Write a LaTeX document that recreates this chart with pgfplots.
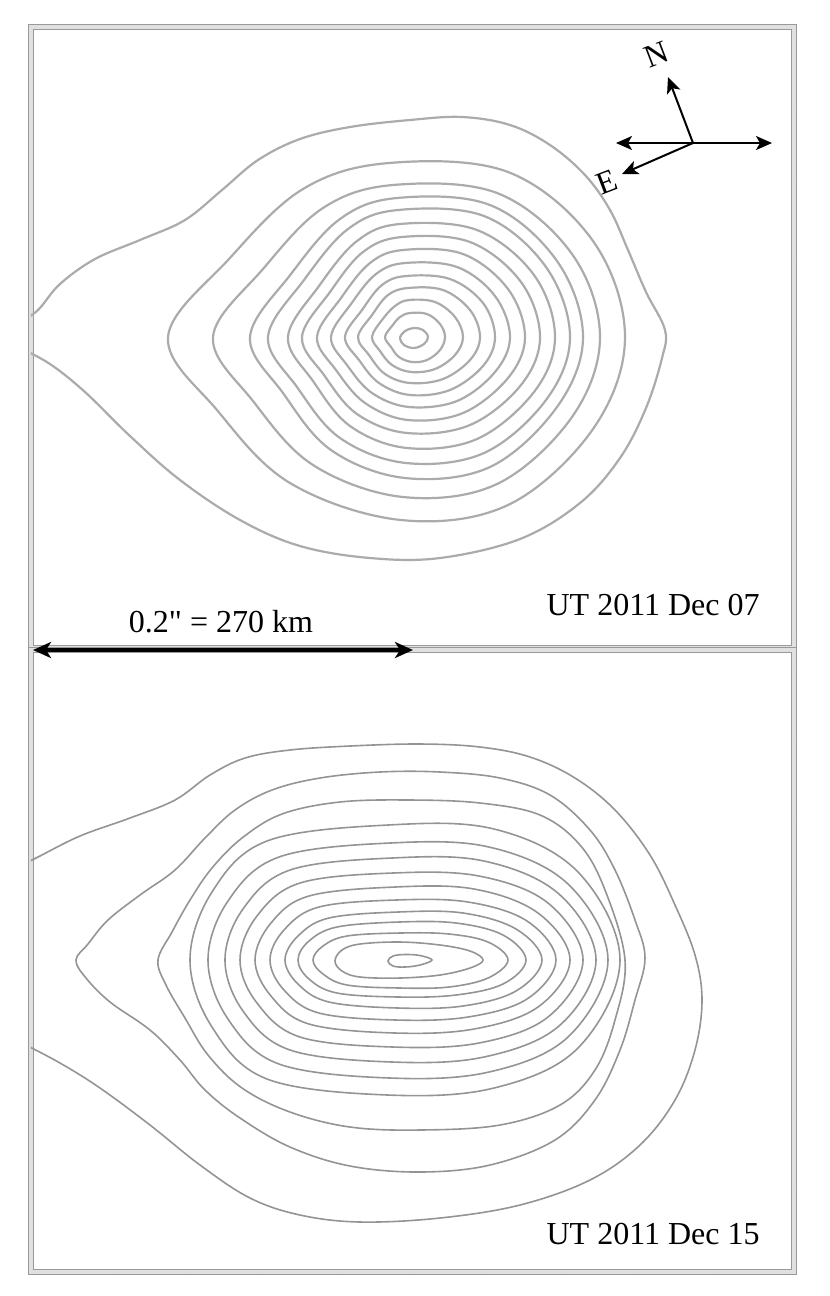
\documentclass[border=0pt]{standalone}
\usepackage{pgfplots}
\pgfplotsset{compat=1.18}
\usepackage{fontspec}
\setmainfont{Liberation Serif}[Ligatures=TeXOff]
\usetikzlibrary{arrows.meta}
\begin{document}
\begin{tikzpicture}
\useasboundingbox (0,0) rectangle (415pt,-648pt);
\pgfplotsset{panel/.style={scale only axis, width=381.5pt, anchor=south west,
  xmin=31, xmax=794, y dir=reverse,
  xtick={38,113,...,788}, xticklabels={}, yticklabels={},
  tick align=center, major tick length=3pt,
  tick style={black!50, line width=0.7pt},
  axis line style={draw=black!40, line width=0.5pt, double=black!12, double distance=1.6pt},
  clip mode=individual},
  cont/.style={black!33, line width=1.1pt, smooth cycle, tension=0.6},
  contb/.style={black!42, line width=0.8pt, smooth cycle, tension=0.6}}
\begin{axis}[panel, at={(15.5pt,-324pt)}, height=310.5pt, ymin=27, ymax=648, ytick={33,108,...,633}]
% outer open contour
\addplot[black!33, line width=1.1pt, smooth, tension=0.6] coordinates {(20,322) (38,310) (60,284) (95,259) (140,240) (185,220) (222,190) (258,160) (300,139) (350,127) (410,120) (462,117) (510,125) (550,145) (585,175) (610,210) (628,250) (646,292) (665,330) (662,358) (646,408) (620,458) (580,503) (520,539) (440,558) (370,558) (300,546) (240,520) (180,480) (130,436) (85,392) (50,364) (20,348)};
\addplot[cont] coordinates {(168,337) (229,259) (303,189) (389,163) (508,172) (593,241) (625,337) (593,429) (508,505) (401,520) (290,483) (217,410)};
\addplot[cont] coordinates {(213,337) (263,269) (323,208) (393,185) (497,193) (572,254) (600,337) (572,417) (497,484) (403,497) (313,465) (253,401)};
\addplot[cont] coordinates {(250,337) (291,274) (340,219) (397,198) (490,205) (557,261) (583,337) (557,407) (490,467) (405,478) (331,450) (283,393)};
\addplot[cont] coordinates {(268,337) (304,280) (348,229) (398,210) (484,216) (546,267) (570,337) (546,400) (484,453) (406,463) (340,438) (297,387)};
\addplot[cont] coordinates {(288,337) (319,286) (357,241) (400,224) (477,230) (534,275) (555,337) (534,392) (477,439) (407,448) (350,426) (313,381)};
\addplot[cont] coordinates {(302,337) (330,292) (363,252) (402,237) (470,242) (521,282) (540,337) (521,385) (470,425) (407,433) (357,414) (324,375)};
\addplot[cont] coordinates {(317,337) (341,298) (370,263) (403,250) (463,254) (508,289) (525,337) (508,378) (463,413) (408,420) (365,403) (336,370)};
\addplot[cont] coordinates {(331,337) (351,304) (376,274) (405,263) (457,267) (495,296) (510,337) (495,372) (457,401) (409,407) (372,393) (347,365)};
\addplot[cont] coordinates {(345,337) (362,310) (382,285) (406,276) (450,279) (483,303) (495,337) (483,366) (450,390) (410,395) (379,383) (359,360)};
\addplot[cont] coordinates {(358,337) (372,315) (388,295) (408,288) (443,290) (470,310) (480,337) (470,360) (443,379) (410,383) (385,374) (369,355)};
\addplot[cont] coordinates {(372,337) (382,320) (395,306) (409,300) (435,302) (455,317) (463,337) (455,355) (435,369) (411,372) (392,365) (380,351)};
\addplot[cont] coordinates {(385,337) (392,326) (400,317) (410,313) (427,314) (440,324) (445,337) (440,350) (427,360) (412,362) (399,357) (391,347)};
\addplot[cont] coordinates {(400,338) (405,331) (414,328) (423,330) (428,337) (424,344) (414,348) (404,345)};
% compass
\draw[line width=1pt, {Stealth[length=8pt,width=7pt,inset=2pt]}-{Stealth[length=8pt,width=7pt,inset=2pt]}] (axis cs:616,143) -- (axis cs:772,143);
\draw[line width=1pt, -{Stealth[length=8pt,width=7pt,inset=2pt]}] (axis cs:693,143) -- (axis cs:668,77);
\draw[line width=1pt, -{Stealth[length=8pt,width=7pt,inset=2pt]}] (axis cs:693,143) -- (axis cs:622,174);
\node[rotate=21, inner sep=0pt, font=\fontsize{16}{19}\selectfont] at (axis cs:657,55) {N};
\node[rotate=21, inner sep=0pt, font=\fontsize{16}{19}\selectfont] at (axis cs:607,182) {E};
\node[anchor=base east, inner sep=0pt, font=\fontsize{16}{19}\selectfont] at (axis cs:760,615) {UT 2011 Dec 07};
\node[anchor=base, inner sep=0pt, font=\fontsize{16}{19}\selectfont] at (axis cs:221,632) {0.2" = 270 km};
\end{axis}
\begin{axis}[panel, at={(15.5pt,-636pt)}, height=311pt, ymin=650, ymax=1272, ytick={666,741,...,1266}]
\addplot[black!42, line width=0.8pt, smooth, tension=0.6] coordinates {(20,866) (38,857) (80,836) (130,818) (175,800) (210,775) (245,758) (290,750) (350,746) (420,744) (480,747) (530,757) (575,778) (615,810) (650,855) (675,905) (695,955) (702,1000) (695,1050) (675,1100) (640,1145) (590,1180) (520,1205) (440,1218) (360,1222) (300,1215) (250,1198) (200,1165) (150,1125) (100,1088) (60,1063) (20,1042)};
\addplot[contb] coordinates {(76,960) (88,944) (108,920) (140,895) (175,870) (205,838) (235,810) (272,790) (320,778) (380,772) (440,772) (500,778) (550,795) (590,830) (615,870) (635,920) (645,958) (635,1000) (620,1050) (595,1100) (555,1140) (490,1165) (420,1172) (350,1166) (290,1147) (240,1118) (205,1090) (180,1060) (150,1030) (110,1002) (86,978)};
\addplot[contb] coordinates {(158,960) (172,932) (190,900) (212,868) (242,838) (282,814) (340,802) (410,800) (480,803) (540,815) (580,845) (605,890) (625,960) (615,1020) (595,1070) (560,1105) (500,1125) (420,1130) (350,1127) (290,1112) (242,1088) (208,1055) (185,1018) (166,985)};
\addplot[contb] coordinates {(190,960) (212,892) (267,841) (388,825) (494,829) (578,872) (620,960) (578,1048) (494,1088) (388,1095) (267,1079) (212,1027)};
\addplot[contb] coordinates {(208,960) (228,901) (279,857) (390,843) (489,847) (568,884) (608,960) (568,1037) (489,1072) (390,1078) (279,1064) (228,1019)};
\addplot[contb] coordinates {(225,960) (243,909) (290,870) (392,858) (484,861) (559,894) (596,960) (559,1026) (484,1057) (392,1062) (290,1050) (243,1011)};
\addplot[contb] coordinates {(240,960) (257,916) (300,883) (393,873) (479,876) (548,903) (583,960) (548,1017) (479,1043) (393,1047) (300,1037) (257,1003)};
\addplot[contb] coordinates {(255,960) (271,923) (309,896) (395,887) (474,889) (538,913) (570,960) (538,1007) (474,1029) (395,1033) (309,1024) (271,996)};
\addplot[contb] coordinates {(270,960) (284,930) (319,907) (396,900) (468,902) (527,921) (556,960) (527,999) (468,1017) (396,1020) (319,1013) (284,990)};
\addplot[contb] coordinates {(285,960) (298,936) (329,918) (398,912) (463,913) (516,929) (542,960) (516,991) (463,1006) (398,1008) (329,1002) (298,984)};
\addplot[contb] coordinates {(298,960) (309,941) (337,927) (399,922) (456,923) (503,935) (526,960) (503,984) (456,995) (399,997) (337,993) (309,979)};
\addplot[contb] coordinates {(313,960) (323,946) (347,936) (400,933) (449,934) (488,942) (508,960) (488,978) (449,987) (400,988) (347,985) (323,974)};
\addplot[contb] coordinates {(335,961) (342,950) (360,944) (400,942) (440,945) (470,951) (483,960) (470,968) (440,975) (400,978) (360,977) (342,971)};
\addplot[contb] coordinates {(388,961) (393,956) (405,954.5) (420,955.5) (432,960) (420,965) (405,967) (393,966)};
\node[anchor=base east, inner sep=0pt, font=\fontsize{16}{19}\selectfont] at (axis cs:760,1244) {UT 2011 Dec 15};
% scale bar
\draw[line width=1.7pt, {Stealth[length=9pt,width=8pt,inset=2.5pt]}-{Stealth[length=9pt,width=8pt,inset=2.5pt]}] (axis cs:33,650) -- (axis cs:413,650);
\end{axis}
\end{tikzpicture}
\end{document}
